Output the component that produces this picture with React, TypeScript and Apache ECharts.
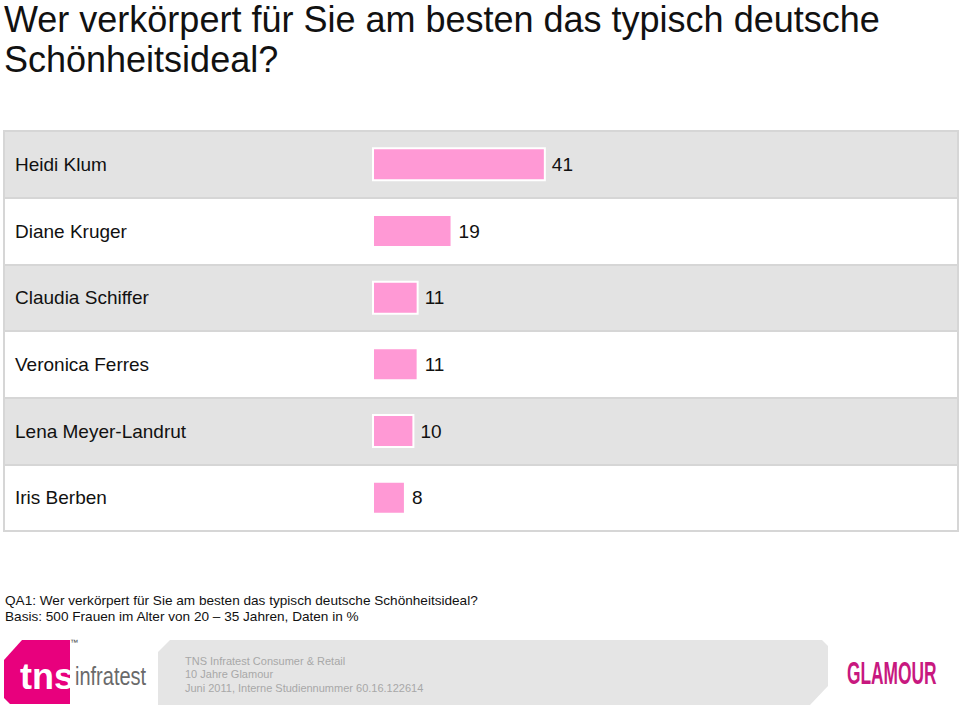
import React, { useEffect, useRef } from "react";
import * as echarts from "echarts";

const categories = [
  "Heidi Klum",
  "Diane Kruger",
  "Claudia Schiffer",
  "Veronica Ferres",
  "Lena Meyer-Landrut",
  "Iris Berben",
];
const values = [41, 19, 11, 11, 10, 8];

const titleLines = [
  "Wer verkörpert für Sie am besten das typisch deutsche",
  "Schönheitsideal?",
];
const noteLines = [
  "QA1: Wer verkörpert für Sie am besten das typisch deutsche Schönheitsideal?",
  "Basis: 500 Frauen im Alter von 20 – 35 Jahren, Daten in %",
];
const footerLines = [
  "TNS Infratest Consumer & Retail",
  "10 Jahre Glamour",
  "Juni 2011, Interne Studiennummer 60.16.122614",
];

const FONT = "'Liberation Sans', Arial, Helvetica, sans-serif";

export default function App() {
  const ref = useRef<HTMLDivElement>(null);
  useEffect(() => {
    if (!ref.current) return;
    const chart = echarts.init(ref.current, null, { renderer: "svg" });
    const option: any = {
      animation: false,
      backgroundColor: "#ffffff",
      textStyle: { fontFamily: FONT },
      grid: [
        { left: 4, right: 2, top: 131, height: 400, containLabel: false },
        { left: 372, width: 424, top: 131, height: 400, containLabel: false },
      ],
      xAxis: [
        { gridIndex: 0, type: "value", min: 0, max: 1, show: false },
        { gridIndex: 1, type: "value", min: 0, max: 100, show: false },
      ],
      yAxis: [
        {
          gridIndex: 0,
          type: "category",
          inverse: true,
          data: categories,
          axisLine: { show: true, lineStyle: { color: "#d6d6d6", width: 1 } },
          axisTick: { show: false },
          axisLabel: {
            inside: true,
            margin: 11,
            color: "#111",
            fontSize: 19,
            fontFamily: FONT,
          },
          splitArea: { show: true, areaStyle: { color: ["#e3e3e3", "#ffffff"] } },
          splitLine: { show: true, lineStyle: { color: "#d6d6d6", width: 2 } },
        },
        {
          gridIndex: 1,
          type: "category",
          inverse: true,
          data: categories,
          show: false,
        },
      ],
      series: [
        {
          type: "bar",
          xAxisIndex: 1,
          yAxisIndex: 1,
          data: values,
          barWidth: 34,
          itemStyle: { color: "#ff99d5", borderColor: "#ffffff", borderWidth: 2 },
          label: {
            show: true,
            position: "right",
            distance: 6,
            color: "#111",
            fontSize: 19,
            fontFamily: FONT,
          },
          z: 5,
        },
      ],
      graphic: [
        {
          type: "rect",
          shape: { x: 4, y: 131, width: 954, height: 400 },
          style: { fill: "none", stroke: "#d6d6d6", lineWidth: 2 },
          z: 10,
          silent: true,
        },
        {
          type: "text",
          x: 4,
          y: 1,
          style: {
            text: titleLines[0],
            fontSize: 36,
            lineHeight: 36,
            fill: "#111",
            fontFamily: FONT,
          },
        },
        {
          type: "text",
          x: 4,
          y: 41,
          style: {
            text: titleLines[1],
            fontSize: 36,
            lineHeight: 36,
            fill: "#111",
            fontFamily: FONT,
          },
        },
        {
          type: "text",
          x: 5,
          y: 592,
          style: {
            text: noteLines.join("\n"),
            fontSize: 13.6,
            lineHeight: 16,
            fill: "#111",
            fontFamily: FONT,
          },
        },
        {
          type: "polygon",
          shape: {
            points: [
              [170, 640],
              [822, 640],
              [828, 646],
              [828, 686],
              [810, 705],
              [158, 705],
              [158, 652],
            ],
          },
          style: { fill: "#e5e5e5" },
        },
        {
          type: "text",
          x: 185,
          y: 654,
          style: {
            text: footerLines.join("\n"),
            fontSize: 11,
            lineHeight: 13.5,
            fill: "#a8a8a8",
            fontFamily: FONT,
          },
        },
        {
          type: "polygon",
          shape: {
            points: [
              [22, 640],
              [70, 640],
              [70, 704],
              [10, 704],
              [4, 698],
              [4, 660],
            ],
          },
          style: { fill: "#e8007d" },
        },
        {
          type: "text",
          x: 20,
          y: 658,
          style: {
            text: "tns",
            fontSize: 36,
            fontWeight: "bold",
            fill: "#ffffff",
            fontFamily: FONT,
          },
        },
        {
          type: "text",
          x: 70,
          y: 638,
          style: { text: "™", fontSize: 8, fill: "#444", fontFamily: FONT },
        },
        {
          type: "text",
          x: 75,
          y: 664,
          scaleX: 0.8,
          style: {
            text: "infratest",
            fontSize: 25,
            fill: "#6a6a6a",
            fontFamily: FONT,
          },
        },
        {
          type: "text",
          x: 847,
          y: 657,
          scaleX: 0.56,
          style: {
            text: "GLAMOUR",
            fontSize: 31,
            fontWeight: "bold",
            fill: "#c8187f",
            fontFamily: FONT,
          },
        },
      ],
    };
    chart.setOption(option);
    return () => chart.dispose();
  }, []);
  return <div ref={ref} style={{ width: 960, height: 706, position: "absolute", left: 0, top: 0 }} />;
}
